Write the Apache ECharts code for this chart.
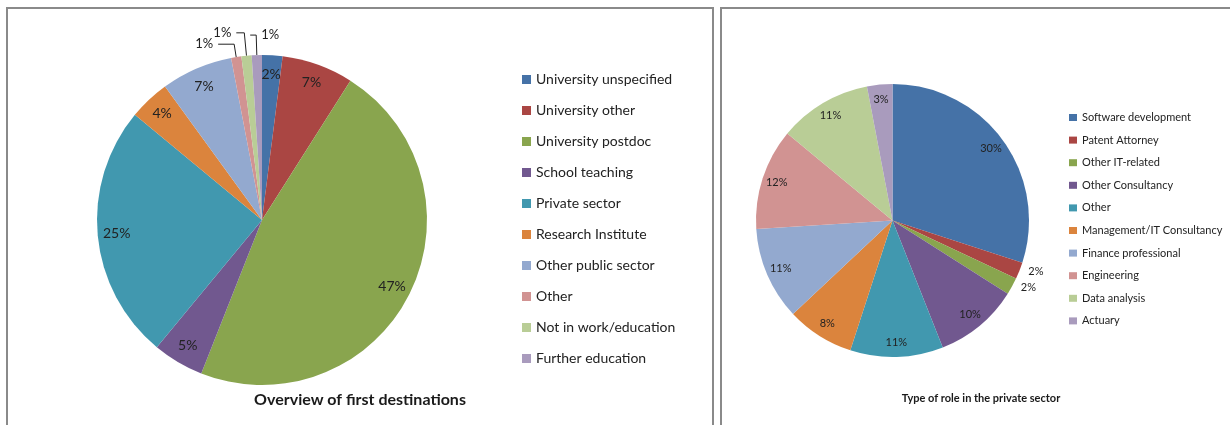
<!DOCTYPE html>
<html>
<head>
<meta charset="utf-8">
<script src="https://cdn.jsdelivr.net/npm/echarts@6/dist/echarts.min.js"></script>
<style>
  html, body { margin: 0; padding: 0; background: #fff; }
  #chart { width: 1230px; height: 425px; }
</style>
</head>
<body>
<div id="chart"></div>
<script>
// first destinations (percent)
const destNames = ['University unspecified', 'University other', 'University postdoc', 'School teaching',
  'Private sector', 'Research Institute', 'Other public sector', 'Other', 'Not in work/education', 'Further education']
const destValues = [2, 7, 47, 5, 25, 4, 7, 1, 1, 1]

// roles in the private sector (percent)
const roleNames = ['Software development', 'Patent Attorney', 'Other IT-related', 'Other Consultancy', 'Other',
  'Management/IT Consultancy', 'Finance professional', 'Engineering', 'Data analysis', 'Actuary']
const roleValues = [30, 2, 2, 10, 11, 8, 11, 12, 11, 3]

// excel 2007 palette
const colors = ['#4572A7', '#AA4643', '#89A54E', '#71588F', '#4198AF', '#DB843D', '#93A9CF', '#D19392', '#B9CD96', '#A99BBD']

const font = 'Lato, "Open Sans", sans-serif'

// small slices whose labels sit outside, with leader lines
const destOutside = {
  7: { length: 13, length2: 16 },
  8: { length: 23, length2: 8 },
  9: { length: 20, length2: 6 }
}
const roleOutside = [1, 2]

const chart = echarts.init(document.getElementById('chart'))

// slices coloured by position, not by name ("Other" is in both pies)
function pieData (names, values) {
  return names.map((n, i) => ({ name: n, value: values[i], itemStyle: { color: colors[i] } }))
}

function legendData (names) {
  return names.map((n, i) => ({ name: n, itemStyle: { color: colors[i] } }))
}

const destLabels = destNames.map((n, i) => {
  const item = { name: n, value: destValues[i] }
  if (destOutside[i]) {
    item.label = { position: 'outside', fontSize: 13 }
    item.labelLine = { show: true, length: destOutside[i].length, length2: destOutside[i].length2 }
  }
  return item
})

const roleLabels = roleNames.map((n, i) => {
  const item = { name: n, value: roleValues[i] }
  if (roleOutside.includes(i)) {
    item.label = { position: 'outside' }
    item.labelLine = { show: false, length: 2, length2: 2 }
  }
  return item
})

chart.setOption({
  animation: false,
  title: [{
    text: 'Overview of first destinations',
    left: 360,
    top: 392,
    padding: 0,
    textAlign: 'center',
    textStyle: { fontFamily: font, fontSize: 16, fontWeight: 'bold', color: '#1a1a1a' }
  }, {
    text: 'Type of role in the private sector',
    left: 981,
    top: 393,
    padding: 0,
    textAlign: 'center',
    textStyle: { fontFamily: font, fontSize: 11, fontWeight: 'bold', color: '#1a1a1a' }
  }],
  legend: [{
    orient: 'vertical',
    left: 522,
    top: 71,
    padding: 0,
    icon: 'rect',
    itemWidth: 9,
    itemHeight: 9,
    itemGap: 14,
    selectedMode: false,
    data: legendData(destNames),
    textStyle: { fontFamily: font, fontSize: 14, lineHeight: 17, color: '#222' }
  }, {
    orient: 'vertical',
    left: 1069,
    top: 111,
    padding: 0,
    icon: 'rect',
    itemWidth: 8,
    itemHeight: 7,
    itemGap: 9.6,
    selectedMode: false,
    data: legendData(roleNames),
    textStyle: { fontFamily: font, fontSize: 11, lineHeight: 13, color: '#222' }
  }],
  graphic: [{
    type: 'rect',
    shape: { x: 7, y: 8, width: 706, height: 440 },
    style: { fill: null, stroke: '#8a8a8a', lineWidth: 2 },
    silent: true
  }, {
    type: 'rect',
    shape: { x: 721, y: 8, width: 540, height: 440 },
    style: { fill: null, stroke: '#8a8a8a', lineWidth: 2 },
    silent: true
  }],
  series: [{
    // left pie slices
    type: 'pie',
    center: [262, 220],
    radius: [0, 165],
    startAngle: 90,
    silent: true,
    label: { show: false },
    labelLine: { show: false },
    itemStyle: { borderWidth: 0 },
    data: pieData(destNames, destValues)
  }, {
    // left pie labels (transparent ring so labels sit near the rim)
    type: 'pie',
    center: [262, 220],
    radius: [121, 165],
    startAngle: 90,
    silent: true,
    avoidLabelOverlap: false,
    itemStyle: { color: 'rgba(0,0,0,0)', borderWidth: 0 },
    label: { show: true, position: 'inside', formatter: '{c}%', fontFamily: font, fontSize: 14, color: '#222' },
    labelLine: { show: false, lineStyle: { color: '#222', width: 1 } },
    // flip the last small label to the right of its leader line, as in the original
    labelLayout: function (params) {
      if (params.dataIndex === 9) {
        return { dx: params.labelRect.width + 2 * destOutside[9].length2 + 4 }
      }
      return {}
    },
    data: destLabels
  }, {
    // right pie slices
    type: 'pie',
    center: [892.5, 220.5],
    radius: [0, 136.5],
    startAngle: 90,
    silent: true,
    label: { show: false },
    labelLine: { show: false },
    itemStyle: { borderWidth: 0 },
    data: pieData(roleNames, roleValues)
  }, {
    // right pie labels
    type: 'pie',
    center: [892.5, 220.5],
    radius: [101, 136.5],
    startAngle: 90,
    silent: true,
    avoidLabelOverlap: false,
    itemStyle: { color: 'rgba(0,0,0,0)', borderWidth: 0 },
    label: { show: true, position: 'inside', formatter: '{c}%', fontFamily: font, fontSize: 11, color: '#222' },
    labelLine: { show: false },
    data: roleLabels
  }]
})
</script>
</body>
</html>
